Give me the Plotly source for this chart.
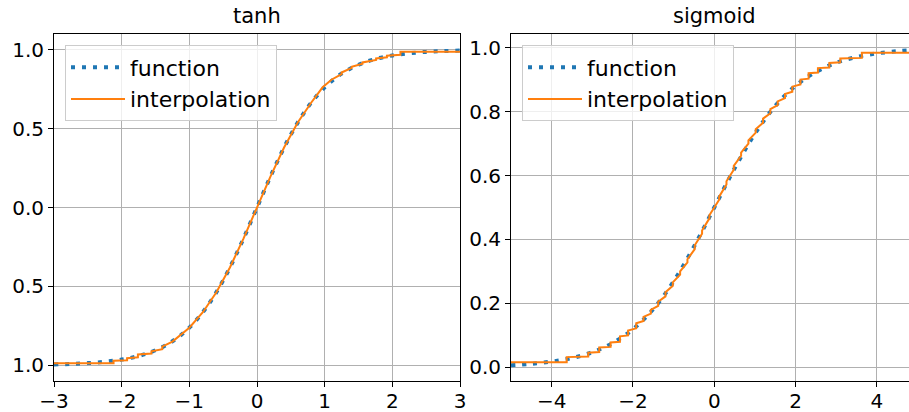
import plotly.graph_objects as go

# ---- data: tanh panel ----
tanh_x = [-3.0, -2.75, -2.5, -2.25, -2.0, -1.75, -1.5, -1.25, -1.0, -0.75, -0.5, -0.25, 0.0,
          0.25, 0.5, 0.75, 1.0, 1.25, 1.5, 1.75, 2.0, 2.25, 2.5, 2.75, 3.0]
tanh_y = [-0.9951, -0.9918, -0.9866, -0.9780, -0.9640, -0.9414, -0.9051, -0.8483, -0.7616,
          -0.6351, -0.4621, -0.2449, 0.0, 0.2449, 0.4621, 0.6351, 0.7616, 0.8483, 0.9051,
          0.9414, 0.9640, 0.9780, 0.9866, 0.9918, 0.9951]

tanh_interp_x = [-3.0, -2.12, -2.12, -1.92, -1.92, -1.76, -1.76, -1.56, -1.56, -1.40, -1.40,
                 -1.25, -1.0, -0.8, -0.6, -0.4, -0.2, 0.0, 0.2, 0.4, 0.6, 0.8, 0.97,
                 1.10, 1.25, 1.25, 1.40, 1.40, 1.56, 1.56, 1.76, 1.76, 1.92, 1.92, 2.12, 2.12, 3.0]
tanh_interp_y = [-0.988, -0.988, -0.972, -0.968, -0.955, -0.950, -0.932, -0.926, -0.912, -0.898,
                 -0.882, -0.850, -0.762, -0.664, -0.537, -0.380, -0.197, 0.0, 0.197, 0.380,
                 0.537, 0.664, 0.762, 0.810, 0.845, 0.856, 0.885, 0.892, 0.912, 0.920, 0.935,
                 0.945, 0.952, 0.962, 0.968, 0.987, 0.987]

# ---- data: sigmoid panel ----
sig_x = [-5.0, -4.5, -4.0, -3.5, -3.0, -2.5, -2.0, -1.5, -1.0, -0.5, 0.0,
         0.5, 1.0, 1.5, 2.0, 2.5, 3.0, 3.5, 4.0, 4.5, 5.0]
sig_y = [0.0067, 0.0110, 0.0180, 0.0293, 0.0474, 0.0759, 0.1192, 0.1824, 0.2689, 0.3775, 0.5,
         0.6225, 0.7311, 0.8176, 0.8808, 0.9241, 0.9526, 0.9707, 0.9820, 0.9890, 0.9933]

sig_interp_x = [-5.0, -3.63, -3.63, -3.1, -3.1, -2.83, -2.83, -2.55, -2.55, -2.32, -2.32,
                -2.12, -2.12, -1.92, -1.92, -1.74, -1.74, -1.56, -1.56, -1.38, -1.38,
                -1.2, -1.2, -1.02, -1.02, -0.84, -0.84, -0.66, -0.66, -0.48, -0.48,
                -0.3, -0.3, -0.12, -0.12,
                0.12, 0.12, 0.3, 0.3, 0.48, 0.48, 0.66, 0.66, 0.84, 0.84, 1.02, 1.02,
                1.2, 1.2, 1.38, 1.38, 1.56, 1.56, 1.74, 1.74, 1.92, 1.92, 2.12, 2.12,
                2.32, 2.32, 2.55, 2.55, 2.83, 2.83, 3.1, 3.1, 3.63, 3.63, 5.0]
sig_interp_y = [0.016, 0.016, 0.032, 0.034, 0.046, 0.048, 0.062, 0.064, 0.078, 0.080, 0.097,
                0.100, 0.115, 0.122, 0.138, 0.145, 0.158, 0.168, 0.180, 0.192, 0.205,
                0.222, 0.235, 0.255, 0.266, 0.290, 0.300, 0.328, 0.338, 0.370, 0.382,
                0.418, 0.428, 0.466, 0.476,
                0.524, 0.534, 0.572, 0.582, 0.618, 0.630, 0.662, 0.672, 0.700, 0.710,
                0.734, 0.745, 0.765, 0.778, 0.795, 0.808, 0.820, 0.832, 0.842, 0.855,
                0.862, 0.878, 0.885, 0.900, 0.903, 0.920, 0.922, 0.936, 0.938, 0.952,
                0.954, 0.966, 0.968, 0.984, 0.984]

tanh_yticks = [-1.0, -0.5, 0.0, 0.5, 1.0]
tanh_yticktext = ["1.0", "0.5", "0.0", "0.5", "1.0"]
tanh_xticks = [-3, -2, -1, 0, 1, 2, 3]
tanh_xticktext = ["\u22123", "\u22122", "\u22121", "0", "1", "2", "3"]
sig_yticks = [0.0, 0.2, 0.4, 0.6, 0.8, 1.0]
sig_yticktext = ["0.0", "0.2", "0.4", "0.6", "0.8", "1.0"]
sig_xticks = [-4, -2, 0, 2, 4]
sig_xticktext = ["\u22124", "\u22122", "0", "2", "4"]

titles = ["tanh", "sigmoid"]
names = ["function", "interpolation"]

BLUE = "#1f77b4"
ORANGE = "#ff7f0e"
FONT = "DejaVu Sans"
W, H = 909, 412

# pixel geometry of the plotting region
ML, MR, MT, MB = 54, 0, 33.5, 31
PW = W - ML - MR
PH = H - MT - MB
L1, R1 = 54, 460
L2, R2 = 511, 909


def px(v):
    return (v - ML) / PW


def py(v):
    return (H - MB - v) / PH


fig = go.Figure()

fig.add_trace(go.Scatter(x=tanh_x, y=tanh_y, mode="lines", name=names[0],
                         line=dict(color=BLUE, width=4, dash="4px,7px", shape="spline"),
                         xaxis="x", yaxis="y", legend="legend"))
fig.add_trace(go.Scatter(x=tanh_interp_x, y=tanh_interp_y, mode="lines", name=names[1],
                         line=dict(color=ORANGE, width=2),
                         xaxis="x", yaxis="y", legend="legend"))
fig.add_trace(go.Scatter(x=sig_x, y=sig_y, mode="lines", name=names[0],
                         line=dict(color=BLUE, width=4, dash="4px,7px", shape="spline"),
                         xaxis="x2", yaxis="y2", legend="legend2"))
fig.add_trace(go.Scatter(x=sig_interp_x, y=sig_interp_y, mode="lines", name=names[1],
                         line=dict(color=ORANGE, width=2),
                         xaxis="x2", yaxis="y2", legend="legend2"))

axis_common = dict(showgrid=True, gridcolor="#b0b0b0", gridwidth=1, zeroline=False,
                   showline=True, linecolor="black", linewidth=1, automargin=False,
                   ticks="outside", ticklen=5, tickwidth=1, tickcolor="black",
                   tickfont=dict(family=FONT, size=20, color="black"))

legend_common = dict(xanchor="left", yanchor="top",
                     bgcolor="rgba(255,255,255,0.8)", bordercolor="#cccccc", borderwidth=1,
                     font=dict(family=FONT, size=22, color="black"), itemwidth=54,
                     tracegroupgap=0)

fig.update_layout(
    width=W, height=H,
    margin=dict(l=ML, r=MR, t=MT, b=MB, autoexpand=False),
    paper_bgcolor="white", plot_bgcolor="white",
    font=dict(family=FONT, color="black"),
    xaxis=dict(domain=[px(L1), px(R1)], range=[-3, 3], anchor="y", mirror=True,
               ticklabelstandoff=-3,
               tickvals=tanh_xticks, ticktext=tanh_xticktext, **axis_common),
    yaxis=dict(domain=[0, 1], range=[-1.1, 1.1], anchor="x", mirror=True,
               tickvals=tanh_yticks, ticktext=tanh_yticktext, **axis_common),
    xaxis2=dict(domain=[px(L2), 1.0], range=[-5, 4.79], anchor="y2", mirror=True,
                ticklabelstandoff=-3,
                tickvals=sig_xticks, ticktext=sig_xticktext, **axis_common),
    yaxis2=dict(domain=[0, 1], range=[-0.0427, 1.0427], anchor="x2", mirror=False,
                tickvals=sig_yticks, ticktext=sig_yticktext, **axis_common),
    legend=dict(x=px(65), y=py(45), **legend_common),
    legend2=dict(x=px(522), y=py(45), **legend_common),
    annotations=[
        dict(text=titles[0], x=(px(L1) + px(R1)) / 2, y=py(15), xref="paper", yref="paper",
             xanchor="center", yanchor="middle", showarrow=False,
             font=dict(family=FONT, size=21, color="black")),
        dict(text=titles[1], x=px(714), y=py(15), xref="paper", yref="paper",
             xanchor="center", yanchor="middle", showarrow=False,
             font=dict(family=FONT, size=21, color="black")),
    ],
)

fig.write_html("out.html", config={"displayModeBar": False},
               post_script="document.body.style.margin='0';document.body.style.overflow='hidden';")
